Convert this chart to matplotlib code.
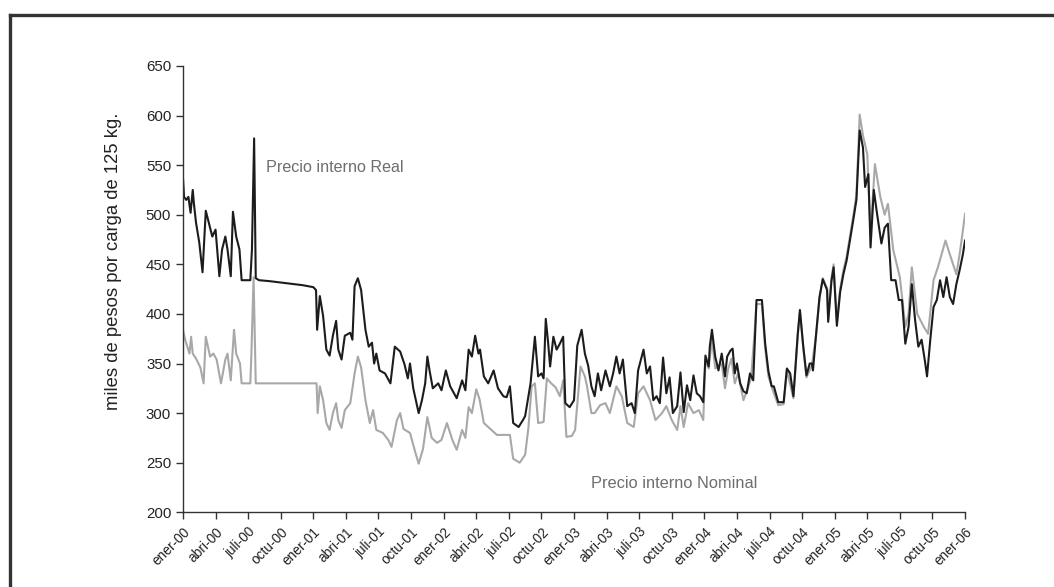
import matplotlib
matplotlib.use('Agg')
from matplotlib import pyplot as plt
from matplotlib.lines import Line2D

plt.rcParams['font.family'] = ['Liberation Sans', 'DejaVu Sans']

# months counted from ener-00, values in miles de pesos por carga
real_months = [0.0, 0.1, 0.3, 0.5, 0.7, 0.9, 1.0, 1.2, 1.5, 1.8, 2.1, 2.4, 2.7, 3.0, 3.35, 3.6, 3.9, 4.1,
               4.4, 4.6, 4.9, 5.2, 5.4, 6.2, 6.35, 6.55, 6.7, 7.0, 8.0, 9.5, 11.0, 12.0, 12.25, 12.35,
               12.6, 12.9, 13.2, 13.5, 13.8, 14.1, 14.3, 14.6, 14.9, 15.4, 15.6, 15.8, 16.1, 16.4, 16.8,
               17.1, 17.4, 17.6, 17.8, 18.1, 18.6, 19.1, 19.5, 20.0, 20.4, 20.7, 20.9, 21.2, 21.7, 22.0,
               22.3, 22.5, 22.7, 23.0, 23.5, 23.8, 24.2, 24.6, 24.8, 25.2, 25.7, 26.0, 26.3, 26.6, 26.9,
               27.2, 27.35, 27.7, 28.1, 28.6, 29.0, 29.5, 29.8, 30.1, 30.4, 30.9, 31.3, 31.5, 31.7, 32.0,
               32.4, 32.7, 33.0, 33.2, 33.4, 33.6, 33.8, 34.1, 34.4, 34.7, 35.0, 35.2, 35.6, 36.0, 36.3,
               36.7, 37.0, 37.3, 37.6, 37.9, 38.2, 38.5, 38.9, 39.3, 39.6, 39.9, 40.2, 40.5, 40.9, 41.3,
               41.6, 41.9, 42.4, 42.7, 43.0, 43.3, 43.6, 43.9, 44.2, 44.5, 44.8, 45.1, 45.5, 45.8, 46.1,
               46.4, 46.7, 47.0, 47.3, 47.6, 47.9, 48.1, 48.4, 48.5, 48.7, 49.0, 49.3, 49.6, 49.9, 50.1,
               50.4, 50.6, 50.8, 51.0, 51.3, 51.6, 51.9, 52.2, 52.5, 52.8, 53.3, 53.6, 53.9, 54.2, 54.4,
               54.8, 55.3, 55.6, 55.9, 56.2, 56.6, 56.8, 57.1, 57.4, 57.7, 57.9, 58.0, 58.3, 58.6, 58.9,
               59.3, 59.4, 59.7, 59.9, 60.2, 60.5, 60.8, 61.1, 61.4, 61.7, 62.0, 62.3, 62.6, 62.8, 63.1,
               63.3, 63.6, 63.9, 64.3, 64.6, 64.9, 65.2, 65.6, 65.9, 66.2, 66.5, 66.8, 67.1, 67.4, 67.7,
               68.0, 68.3, 68.5, 68.8, 69.1, 69.4, 69.7, 70.0, 70.3, 70.6, 70.9, 71.2, 71.5, 71.8, 72.0]
real_vals = [537, 518, 515, 518, 502, 525, 512, 492, 472, 442, 504, 491, 478, 485, 438, 465, 478, 465,
             438, 503, 478, 465, 434, 434, 465, 577, 436, 434, 433, 431, 429, 427, 424, 384,
             418, 398, 364, 358, 378, 393, 364, 354, 378, 381, 374, 428, 436, 424, 384,
             367, 371, 350, 360, 343, 340, 330, 367, 362, 349, 335, 350, 325, 300, 313,
             330, 357, 343, 325, 330, 323, 343, 327, 323, 315, 333, 323, 364, 357, 378,
             360, 364, 337, 330, 343, 325, 317, 316, 327, 290, 286, 293, 297, 310, 330,
             377, 337, 340, 335, 395, 373, 347, 377, 364, 370, 377, 310, 306, 313, 368,
             384, 360, 348, 327, 317, 340, 323, 343, 327, 340, 357, 340, 354, 307, 310,
             300, 343, 364, 340, 347, 313, 317, 310, 356, 320, 336, 300, 307, 341, 301,
             328, 313, 338, 320, 317, 311, 358, 347, 367, 384, 357, 343, 360, 337, 357,
             363, 365, 340, 350, 330, 322, 320, 340, 333, 414, 414, 370, 342, 327, 327,
             311, 311, 345, 340, 317, 380, 404, 368, 338, 350, 350, 343, 381, 417, 435,
             424, 392, 433, 447, 388, 422, 440, 454, 474, 494, 515, 585, 568, 528, 541,
             467, 525, 501, 471, 487, 491, 434, 434, 414, 414, 370, 387, 430, 394, 367,
             374, 353, 337, 374, 407, 414, 434, 417, 437, 417, 410, 430, 444, 460, 474]

nom_months = [0.0, 0.2, 0.6, 0.75, 0.9, 1.2, 1.6, 1.9, 2.1, 2.5, 2.8, 3.1, 3.5, 3.9, 4.1, 4.4, 4.7, 4.9,
              5.25, 5.4, 6.2, 6.3, 6.5, 6.7, 12.3, 12.4, 12.6, 12.9, 13.2, 13.5, 13.8, 14.1, 14.3,
              14.6, 14.9, 15.4, 15.8, 16.1, 16.4, 16.8, 17.2, 17.5, 17.8, 18.4, 18.9, 19.2, 19.7,
              20.0, 20.3, 20.9, 21.4, 21.7, 22.1, 22.5, 22.9, 23.4, 23.8, 24.3, 24.8, 25.2, 25.7,
              26.0, 26.3, 26.6, 27.0, 27.3, 27.7, 28.3, 28.9, 29.5, 30.1, 30.4, 31.0, 31.5, 31.8,
              32.1, 32.4, 32.7, 33.2, 33.5, 33.9, 34.3, 34.7, 35.0, 35.3, 35.8, 36.1, 36.6, 37.0,
              37.2, 37.6, 37.9, 38.4, 38.9, 39.3, 39.9, 40.4, 40.9, 41.5, 41.9, 42.4, 43.0, 43.5,
              44.1, 44.5, 45.0, 45.5, 45.8, 46.1, 46.5, 47.0, 47.5, 47.9, 48.1, 48.4, 48.7, 49.0,
              49.6, 49.9, 50.2, 50.5, 50.8, 51.1, 51.6, 52.0, 52.3, 52.6, 52.8, 53.3, 53.6, 53.9,
              54.3, 54.8, 55.3, 55.6, 56.2, 56.6, 56.8, 57.1, 57.4, 57.9, 58.3, 58.6, 58.9, 59.3,
              59.4, 59.7, 59.9, 60.2, 60.5, 60.8, 61.1, 61.4, 61.7, 62.0, 62.3, 62.6, 63.0, 63.3,
              63.7, 64.2, 64.6, 64.9, 65.4, 66.0, 66.5, 66.8, 67.1, 67.6, 68.2, 68.6, 69.1, 69.5,
              70.2, 70.6, 71.2, 71.5, 71.8, 72.0]
nom_vals = [384, 374, 360, 377, 360, 355, 346, 330, 377, 357, 360, 354, 330, 354, 360, 333, 384, 360,
            350, 330, 330, 360, 437, 330, 330, 300, 327, 313, 290, 283, 300, 310, 293,
            285, 303, 310, 340, 357, 346, 313, 290, 303, 283, 280, 273, 266, 293,
            300, 284, 280, 260, 249, 264, 296, 275, 270, 273, 290, 273, 263, 283,
            275, 306, 300, 324, 314, 290, 284, 278, 278, 278, 254, 250, 258, 285,
            327, 330, 290, 291, 335, 330, 326, 317, 333, 276, 277, 283, 347, 337,
            327, 300, 300, 308, 310, 300, 327, 317, 290, 286, 320, 327, 313, 293,
            300, 307, 293, 283, 307, 286, 310, 300, 303, 293, 354, 345, 375, 345,
            350, 325, 345, 355, 330, 340, 313, 325, 335, 378, 410, 410, 365, 337,
            323, 308, 309, 343, 315, 378, 402, 366, 336, 348, 380, 415, 436, 426,
            395, 436, 450, 392, 425, 444, 458, 478, 498, 520, 601, 580, 561, 480,
            551, 518, 500, 511, 464, 437, 387, 400, 447, 400, 387, 380, 434, 447,
            474, 460, 440, 460, 484, 501]

tick_labels = []
for yy in range(0, 7):
    for mes in ['ener', 'abri', 'juli', 'octu']:
        tick_labels.append('%s-%02d' % (mes, yy))
tick_labels = tick_labels[:25]

fig = plt.figure(figsize=(10.54, 5.87), dpi=100)
ax = fig.add_axes([0.1736, 0.1273, 0.7420, 0.7603])

ax.plot(nom_months, nom_vals, color='#a8a8a8', linewidth=1.5)
ax.plot(real_months, real_vals, color='#1c1c1c', linewidth=1.5)

ax.set_xlim(0, 72)
ax.set_ylim(200, 650)
ax.set_yticks(range(200, 651, 50))
ax.set_xticks(range(0, 73, 3))
ax.set_xticklabels(tick_labels, rotation=45, ha='right', rotation_mode='anchor', fontsize=9.8)

for s in ['top', 'right']:
    ax.spines[s].set_visible(False)
for s in ['left', 'bottom']:
    ax.spines[s].set_color('#333333')
    ax.spines[s].set_linewidth(1.0)
ax.tick_params(axis='both', colors='#333333', labelcolor='#222222', length=5, width=1.0)
ax.tick_params(axis='y', labelsize=10.8)
ax.tick_params(axis='x', pad=4)

ax.set_ylabel('miles de pesos por carga de 125 kg.', fontsize=13.3, color='#222222')
ax.yaxis.set_label_coords(-0.078, 0.563)

ax.text(7.6, 548, 'Precio interno Real', fontsize=11.6, color='#6e6e6e', va='center')
ax.text(37.6, 229.5, 'Precio interno Nominal', fontsize=11.8, color='#6e6e6e', va='center')

# outer frame, only top and left edges show in the picture
fig.add_artist(Line2D([10 / 1054, 10 / 1054], [0, 1 - 15 / 587], color='#333333', linewidth=2.4))
fig.add_artist(Line2D([10 / 1054, 1], [1 - 15 / 587, 1 - 15 / 587], color='#333333', linewidth=2.4))

fig.savefig('out.png', dpi=100)
